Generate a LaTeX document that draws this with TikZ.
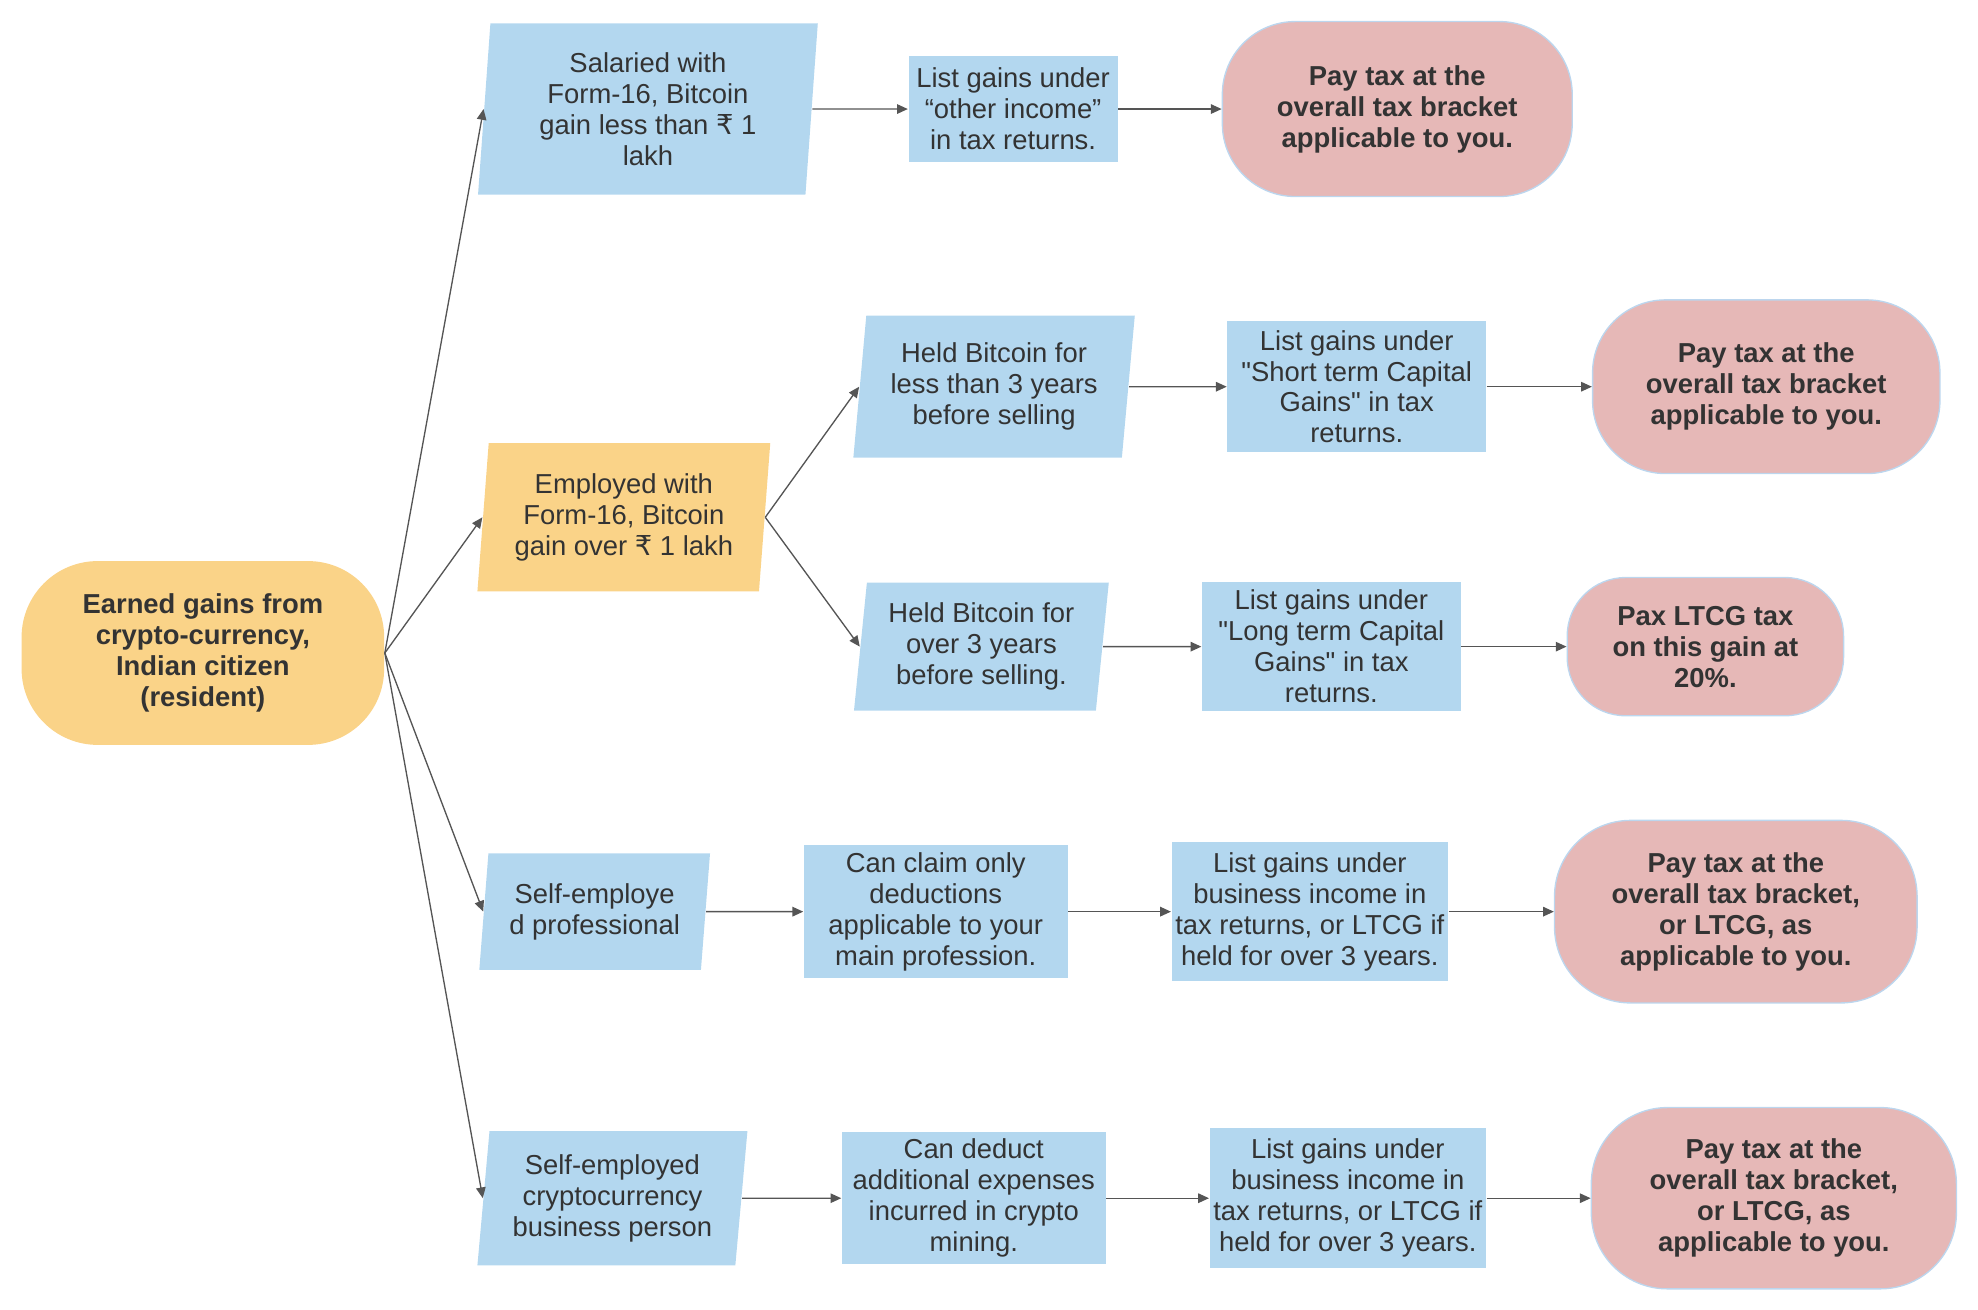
\documentclass[tikz,border=0pt]{standalone}
\usepackage{fontspec}
\setmainfont{Liberation Sans}[Ligatures=TeXOff]
\newfontfamily\rupeefont{DejaVu Sans}
\usepackage{tikz}
\usetikzlibrary{arrows.meta}
\usetikzlibrary{shapes.geometric}
\definecolor{boxblue}{HTML}{B3D7EF}
\definecolor{boxyellow}{HTML}{FAD388}
\definecolor{boxpink}{HTML}{E6B8B7}
\definecolor{pinkline}{HTML}{BCD6EE}
\definecolor{txtgray}{HTML}{333333}
\definecolor{linegray}{HTML}{555555}
\newcommand{\dfont}{\fontsize{12.3}{13.9}\selectfont}
\newcommand{\Rs}{{\rupeefont ₹}}
\tikzset{basic/.style={align=center,inner sep=1pt,text=txtgray,font=\dfont}}
\tikzset{listbox/.style={basic,rectangle,fill=boxblue}}
\tikzset{slantbox/.style={basic,trapezium,trapezium left angle=83,trapezium right angle=97,trapezium stretches body,fill=boxblue}}
\tikzset{pill/.style={basic,rectangle,fill=boxpink,draw=pinkline,font=\dfont\bfseries}}

\begin{document}
\begin{tikzpicture}[
x = 0.02cm, y = -0.02cm, % reference pixels
> = {Triangle[length=1.7mm,width=1.5mm]}, % arrow head style
line width = 0.6pt,
draw = linegray
]
\useasboundingbox (0,0) rectangle (1560,1033);

% start
\node[pill, fill=boxyellow, draw=none, minimum width=5.72cm, minimum height=2.9cm, rounded corners=1.2cm] (root) at (160,515)
  {Earned gains from\\crypto-currency,\\Indian citizen\\(resident)};

% first row
\node[slantbox, trapezium left angle=84, trapezium right angle=96, minimum width=5.36cm, minimum height=2.7cm] (sal) at (511,86)
  {Salaried with\\Form-16, Bitcoin\\gain less than \Rs{} 1\\lakh};
\node[listbox, minimum width=3.3cm, minimum height=1.66cm] (sal1) at (799,86)
  {List gains under\\“other income”\\in tax returns.};
\node[pill, minimum width=5.52cm, minimum height=2.76cm, rounded corners=1.15cm] (sal2) at (1102,86)
  {Pay tax at the\\overall tax bracket\\applicable to you.};

% employed
\node[slantbox, fill=boxyellow, minimum width=4.62cm, minimum height=2.34cm] (emp) at (492,408)
  {Employed with\\Form-16, Bitcoin\\gain over \Rs{} 1 lakh};
\node[slantbox, trapezium left angle=82, trapezium right angle=98, minimum width=4.44cm, minimum height=2.24cm] (less) at (784,305)
  {Held Bitcoin for\\less than 3 years\\before selling};
\node[listbox, minimum width=4.08cm, minimum height=2.06cm] (less1) at (1070,305)
  {List gains under\\"Short term Capital\\Gains" in tax\\returns.};
\node[pill, minimum width=5.48cm, minimum height=2.74cm, rounded corners=1.15cm] (less2) at (1393,305)
  {Pay tax at the\\overall tax bracket\\applicable to you.};
\node[slantbox, trapezium left angle=82, trapezium right angle=98, minimum width=4.02cm, minimum height=2.02cm] (over) at (774,510)
  {Held Bitcoin for\\over 3 years\\before selling.};
\node[listbox, minimum width=4.08cm, minimum height=2.04cm] (over1) at (1050,510)
  {List gains under\\"Long term Capital\\Gains" in tax\\returns.};
\node[pill, minimum width=4.36cm, minimum height=2.18cm, rounded corners=0.92cm] (over2) at (1345,510)
  {Pax LTCG tax\\on this gain at\\20\%.};

% self-employed
\node[slantbox, trapezium left angle=81.5, trapezium right angle=98.5, minimum width=3.64cm, minimum height=1.84cm] (prof) at (469,719)
  {Self-employe\\d professional};
\node[listbox, minimum width=4.16cm, minimum height=2.1cm] (prof1) at (738,719)
  {Can claim only\\deductions\\applicable to your\\main profession.};
\node[listbox, minimum width=4.36cm, minimum height=2.2cm] (prof2) at (1033,719)
  {List gains under\\business income in\\tax returns, or LTCG if\\held for over 3 years.};
\node[pill, minimum width=5.72cm, minimum height=2.88cm, rounded corners=1.2cm] (prof3) at (1369,719)
  {Pay tax at the\\overall tax bracket,\\or LTCG, as\\applicable to you.};

\node[slantbox, trapezium left angle=82.5, trapezium right angle=97.5, minimum width=4.26cm, minimum height=2.12cm] (biz) at (483,945)
  {Self-employed\\cryptocurrency\\business person};
\node[listbox, minimum width=4.16cm, minimum height=2.08cm] (biz1) at (768,945)
  {Can deduct\\additional expenses\\incurred in crypto\\mining.};
\node[listbox, minimum width=4.36cm, minimum height=2.2cm] (biz2) at (1063,945)
  {List gains under\\business income in\\tax returns, or LTCG if\\held for over 3 years.};
\node[pill, minimum width=5.76cm, minimum height=2.86cm, rounded corners=1.2cm] (biz3) at (1399,945)
  {Pay tax at the\\overall tax bracket,\\or LTCG, as\\applicable to you.};

\path[->] (root.east) edge (sal.west);
\path[->] (root.east) edge (emp.west);
\path[->] (root.east) edge (prof.west);
\path[->] (root.east) edge (biz.west);
\path[->] (emp.east) edge (less.west);
\path[->] (emp.east) edge (over.west);

\path[->] (sal) edge (sal1);
\path[->] (sal1) edge (sal2);
\path[->] (less) edge (less1);
\path[->] (less1) edge (less2);
\path[->] (over) edge (over1);
\path[->] (over1) edge (over2);
\path[->] (prof) edge (prof1);
\path[->] (prof1) edge (prof2);
\path[->] (prof2) edge (prof3);
\path[->] (biz) edge (biz1);
\path[->] (biz1) edge (biz2);
\path[->] (biz2) edge (biz3);
\end{tikzpicture}
\end{document}
